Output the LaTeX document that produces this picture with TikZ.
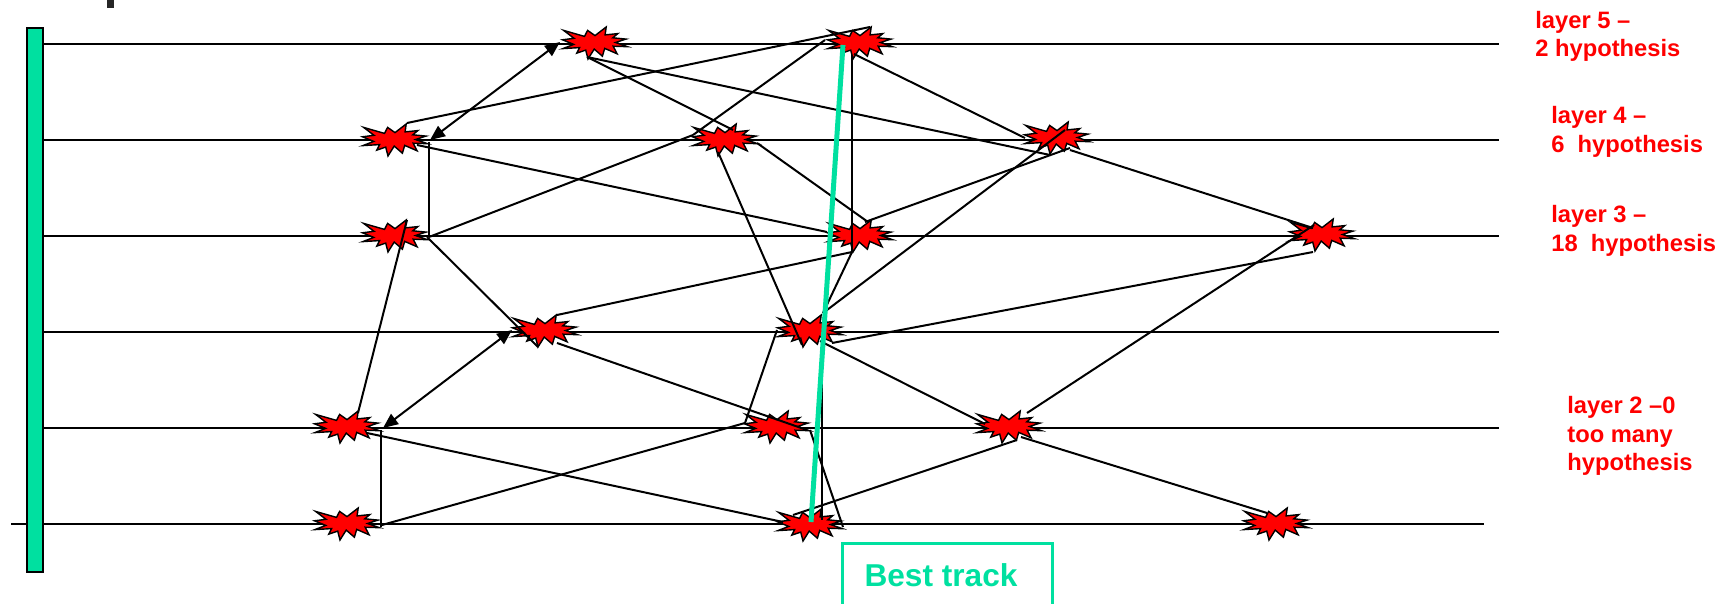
\documentclass[tikz,border=0pt]{standalone}
\usepackage{fontspec}
\setmainfont{Liberation Sans}
\usetikzlibrary{arrows.meta,calc}
\definecolor{trk}{RGB}{0,224,160}
\definecolor{lbl}{RGB}{255,0,0}
\begin{document}
\begin{tikzpicture}[x=0.02cm,y=-0.02cm,
  layerline/.style={line width=0.04cm},
  conn/.style={line width=0.04cm, black},
  twoway/.style={conn, {Triangle[length=0.3cm,width=0.25cm]}-{Triangle[length=0.3cm,width=0.25cm]}},
  lab/.style={text=lbl, font=\fontsize{13.5}{16}\selectfont\bfseries, anchor=base west, inner sep=0},
  burst/.pic={\filldraw[fill=red,draw=black,line width=0.8pt]
    (0,-7.4) -- (11.2,-16) -- (10.1,-8.1) -- (22.8,-9.4) -- (17.8,-5.2) -- (31.0,-3.9)
    -- (20.5,-0.5) -- (32.5,3.7) -- (18.2,3.2) -- (22.1,10.8) -- (9.7,5.4) -- (7.4,13.2)
    -- (-0.8,6.1) -- (-7.0,16.0) -- (-9.3,7.1) -- (-18.2,10.1) -- (-15.4,4.6) -- (-32.1,5.6)
    -- (-21.3,1.4) -- (-32.5,-3.2) -- (-21.0,-4.7) -- (-31.4,-12.6) -- (-10.5,-6.6) -- (-7.4,-12.6) -- cycle;}
]
\useasboundingbox (0,0) rectangle (1726,604);
% top fragment
\fill[black!85] (107,0) rectangle (114,8);
% layer lines
\draw[layerline] (43,44) -- (1499,44);
\draw[layerline] (43,140) -- (1499,140);
\draw[layerline] (43,236) -- (1499,236);
\draw[layerline] (43,332) -- (1499,332);
\draw[layerline] (43,428) -- (1499,428);
\draw[layerline] (11,524) -- (1484,524);
% green bar
\filldraw[fill=trk, draw=black, line width=0.035cm] (27,28) rectangle (43,572);
% hit positions
\coordinate (S5a) at (595,43);
\coordinate (S5b) at (860,43);
\coordinate (S4a) at (395,140);
\coordinate (S4b) at (725,140);
\coordinate (S4c) at (1057,138);
\coordinate (S3a) at (395,236);
\coordinate (S3b) at (860,236);
\coordinate (S3c) at (1322,235);
\coordinate (S2a) at (545,331);
\coordinate (S2b) at (810,331);
\coordinate (S1a) at (347,427);
\coordinate (S1b) at (777,427);
\coordinate (S1c) at (1009,427);
\coordinate (S0a) at (347,524);
\coordinate (S0b) at (810,525);
\coordinate (S0c) at (1276,524);
\foreach \s in {S5a,S5b,S4a,S4b,S4c,S3a,S3b,S3c,S2a,S2b,S1a,S1b,S1c,S0a,S0b,S0c}
  \pic at (\s) {burst};
% connectors
\draw[twoway] ($(S4a)+(35,0)$) -- ($(S5a)+(-35,-1)$);
\draw[twoway] ($(S1a)+(36,1)$) -- ($(S2a)+(-33,-1)$);
\draw[conn] ($(S4a)+(12,-17)$) -- ($(S5b)+(10,-16)$);
\draw[conn] ($(S5a)+(-8,14)$) -- ($(S4c)+(-7,17)$);
\draw[conn] ($(S5a)+(-8,14)$) -- ($(S4b)+(8,-10)$);
\draw[conn] ($(S4b)+(32,3)$) -- ($(S3b)+(8,-14)$);
\draw[conn] ($(S4a)+(22,5)$) -- ($(S3b)+(-33,-4)$);
\draw[conn] ($(S4a)+(34,2)$) -- ($(S3a)+(34,1)$);
\draw[conn] ($(S3a)+(34,1)$) -- ($(S4b)+(-32,-5)$);
\draw[conn] ($(S4b)+(-32,-5)$) -- ($(S5b)+(-35,-3)$);
\draw[conn] ($(S4b)+(-7,12)$) -- ($(S2b)+(-8,14)$);
\draw[conn] ($(S5b)+(-8,12)$) -- ($(S3b)+(-8,16)$);
\draw[conn] ($(S3b)+(-8,16)$) -- ($(S2b)+(13,-18)$);
\draw[conn] ($(S2a)+(12,-16)$) -- ($(S3b)+(-8,16)$);
\draw[conn] ($(S5b)+(-6,11)$) -- ($(S4c)+(-32,0)$);
\draw[conn] ($(S4c)+(13,10)$) -- ($(S3b)+(5,-14)$);
\draw[conn] ($(S4c)+(8,-8)$) -- ($(S2b)+(13,-18)$);
\draw[conn] ($(S4c)+(13,12)$) -- ($(S3c)+(-9,-7)$);
\draw[conn] ($(S3c)+(-8,-10)$) -- ($(S1c)+(18,-14)$);
\draw[conn] ($(S3c)+(-9,17)$) -- ($(S2b)+(22,12)$);
\draw[conn] ($(S3a)+(12,-16)$) -- ($(S1a)+(11,-14)$);
\draw[conn] ($(S3a)+(32,1)$) -- ($(S2a)+(-7,16)$);
\draw[conn] ($(S2a)+(12,12)$) -- ($(S1b)+(30,3)$);
\draw[conn] ($(S1b)+(-32,-4)$) -- ($(S2b)+(-33,-1)$);
\draw[conn] ($(S1b)+(33,3)$) -- ($(S0b)+(33,2)$);
\draw[conn] ($(S2b)+(12,14)$) -- ($(S0b)+(12,-5)$);
\draw[conn] ($(S2b)+(10,10)$) -- ($(S1c)+(-24,-3)$);
\draw[conn] ($(S1c)+(12,10)$) -- ($(S0c)+(-9,-11)$);
\draw[conn] ($(S0b)+(-17,-10)$) -- ($(S1c)+(8,13)$);
\draw[conn] ($(S1a)+(20,6)$) -- ($(S0b)+(-27,-3)$);
\draw[conn] ($(S1a)+(34,3)$) -- ($(S0a)+(34,3)$);
\draw[conn] ($(S0a)+(35,1)$) -- ($(S1b)+(-32,-4)$);
% best track
\draw[trk, line width=0.1cm] ($(S0b)+(1,-3)$) -- ($(S5b)+(-17,2)$);
\draw[trk, line width=0.06cm] (842,543) rectangle (1052,612);
\node[font=\fontsize{18}{20}\selectfont\bfseries, text=trk, anchor=base, inner sep=0] (bt) at (941,586) {Best track};
% labels
\node[lab] (l5a) at (1535,29) {layer 5 –};
\node[lab] (l5b) at (1535,57) {2 hypothesis};
\node[lab] (l4a) at (1551,124) {layer 4 –};
\node[lab] (l4b) at (1551,153) {6\ \ hypothesis};
\node[lab] (l3a) at (1551,223) {layer 3 –};
\node[lab] (l3b) at (1551,252) {18\ \ hypothesis};
\node[lab] (l2a) at (1567,413) {layer 2 –0};
\node[lab] (l2b) at (1567,442) {too many};
\node[lab] (l2c) at (1567,470) {hypothesis};
\end{tikzpicture}
\end{document}
